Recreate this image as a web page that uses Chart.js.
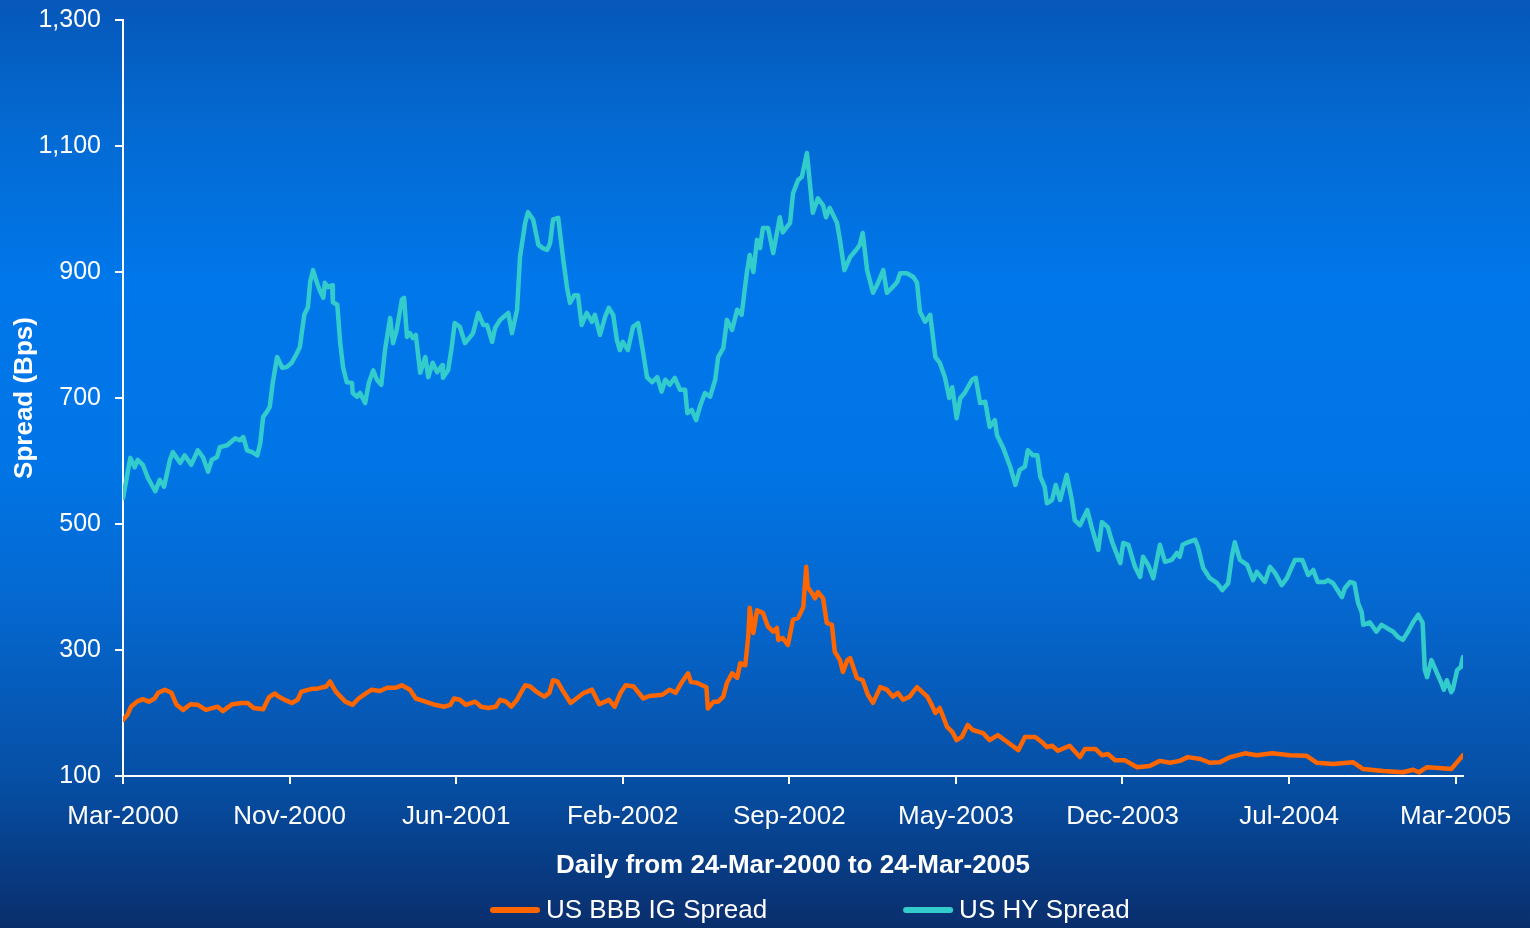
<!DOCTYPE html>
<html>
<head>
<meta charset="utf-8">
<title>US Credit Spreads</title>
<script src="https://cdn.jsdelivr.net/npm/chart.js@4.4.1/dist/chart.umd.min.js"></script>
<style>
  html, body { margin: 0; padding: 0; background: #0a2e6c; overflow: hidden; }
  canvas { display: block; }
</style>
</head>
<body>
<canvas id="spreads" width="1530" height="928"></canvas>
<script>
// Day numbers are counted from 24-Mar-2000.
const hyDays = [0,10,16,20,27,34,44,50,56,64,68,78,84,93,102,109,116,121,128,132,142,153,159,164,169,176,183,187,191,196,200,204,210,217,223,230,237,241,247,252,255,259,264,268,273,275,279,285,286,292,296,300,305,312,313,319,323,330,335,341,346,352,357,364,368,373,380,383,387,391,395,399,
  405,412,416,422,428,435,436,443,448,452,459,466,473,477,484,491,496,503,507,514,525,530,537,541,548,552,559,566,572,578,582,586,593,600,605,609,615,620,625,632,639,643,
  650,657,662,668,673,677,681,688,695,702,709,714,721,728,734,739,745,752,759,766,769,775,781,786,793,800,807,811,818,823,830,837,843,850,854,
  859,864,868,872,879,886,895,899,909,913,920,925,928,932,936,940,947,954,958,963,973,977,983,991,999,1004,1008,1014,1022,1029,1036,1041,1048,1055,1059,1068,1077,1082,1086,1093,1100,1107,1113,1120,1126,1130,1136,
  1141,1147,1157,1162,1168,1175,1181,1188,1191,1199,1209,1216,1222,1229,1233,1240,1246,1250,1256,1259,1266,1271,1277,1286,1293,1297,1304,1314,1320,1329,1334,1342,1348,1352,1359,1363,1370,1379,1386,1390,1397,1404,1413,1420,1429,1436,1440,1444,1451,1461,1465,
  1472,1481,1491,1498,1506,1511,1515,1522,1532,1540,1545,1556,1563,1570,1579,1586,1597,1607,1615,1622,1628,1638,1642,1649,1661,1665,1672,1678,1683,1688,1690,1699,1708,1715,1722,1731,1737,1744,1751,1758,1765,1771,1774,1777,1783,1790,1796,1800,1804,1810,1812,1818,1823,1826];

const hyValues = [541,605,590,602,594,573,552,570,559,602,614,597,609,594,617,606,583,602,606,622,625,636,633,638,617,614,609,628,670,678,686,724,765,748,749,756,771,781,832,844,884,903,884,871,859,883,876,879,852,848,787,748,725,724,708,702,708,692,724,744,729,721,776,827,787,808,856,859,797,803,795,800,
  740,765,733,756,741,752,732,744,781,819,813,787,797,803,835,816,816,789,811,824,835,803,840,924,978,995,983,943,938,935,946,983,986,919,876,851,863,863,816,835,821,832,
  800,829,843,832,792,776,789,776,813,819,771,733,725,733,710,729,721,732,713,713,676,681,665,686,708,702,729,765,779,824,808,840,832,898,927,
  900,951,938,970,970,930,987,963,978,1025,1046,1051,1067,1089,1041,994,1017,1006,987,1002,978,951,903,924,935,943,962,903,867,883,903,867,875,884,898,898,892,883,837,821,832,765,756,733,700,717,668,
  700,708,729,732,692,694,654,665,641,622,591,562,586,591,617,609,609,575,559,533,538,562,538,578,538,506,498,522,495,459,503,495,471,459,438,470,467,432,416,448,435,414,467,440,443,454,448,467,471,475,463,
  430,414,406,395,406,448,471,443,435,411,424,408,432,422,403,414,443,443,419,427,408,408,411,406,384,398,408,406,375,360,340,344,329,340,335,329,321,316,329,344,356,343,268,257,284,265,249,237,252,233,237,268,273,289];

const bbbDays = [0,6,11,19,27,35,43,48,57,66,73,82,92,102,113,129,136,149,162,170,178,191,199,207,212,222,230,238,243,256,266,277,282,290,303,313,321,332,339,350,360,371,380,391,399,407,417,425,438,446,451,459,467,480,488,498,508,514,522,529,537,542,548,555,563,574,581,586,592,600,610,618,628,633,639,649,657,662,670,678,685,696,709,717,735,745,753,761,770,774,782,795,797,805,
  811,818,823,830,837,841,848,852,854,859,864,872,879,886,891,893,899,906,913,920,927,931,933,939,943,947,954,959,966,970,977,981,987,991,1000,1008,1015,1022,1032,1041,1049,1056,1063,1072,1077,1082,1096,1102,1107,1113,1123,1130,1136,1143,1151,1158,1172,1181,1192,1205,1220,1229,1243,1252,1259,1266,1274,1290,1304,1311,1325,1334,1342,1352,
  1365,1382,1399,1413,1427,1440,1451,1468,1481,1495,1509,1529,1545,1566,1590,1613,1627,1649,1668,1676,1690,1717,1744,1758,1766,1777,1788,1810,1818,1826];

const bbbValues = [189,197,210,218,222,218,223,232,237,232,213,205,214,213,205,210,203,214,216,216,208,206,225,231,226,220,216,221,234,238,239,242,250,234,218,213,223,232,237,235,240,240,244,237,223,220,216,213,210,213,223,221,213,218,210,208,210,221,218,210,221,232,244,242,234,226,232,252,250,234,216,223,232,234,237,214,218,221,210,232,244,242,223,227,229,237,232,248,263,249,248,241,207,218,
  218,226,248,263,256,279,276,321,367,327,363,359,337,329,335,316,319,308,348,351,368,432,400,390,382,392,382,343,340,297,284,265,284,287,256,252,229,216,241,237,226,232,221,226,234,241,226,213,200,208,178,170,157,162,181,173,168,157,165,154,141,162,162,154,146,148,140,148,130,143,143,133,135,125,
  125,114,116,124,121,124,130,127,121,122,130,136,133,136,133,132,121,119,121,122,111,108,106,110,106,114,113,111,122,133];

const xTickDates = ['2000-03-24','2000-11-06','2001-06-21','2002-02-03','2002-09-18','2003-05-03','2003-12-16','2004-07-30','2005-03-14'];
const xTickLabels = ['Mar-2000','Nov-2000','Jun-2001','Feb-2002','Sep-2002','May-2003','Dec-2003','Jul-2004','Mar-2005'];
const seriesNames = ['US BBB IG Spread', 'US HY Spread'];
const yMin = 100, yMax = 1300, yStep = 200;
const endDay = 1826; // 24-Mar-2005

const DAY_MS = 86400000;
const startMs = Date.UTC(2000, 2, 24);
const toDay = s => { const [y, m, d] = s.split('-').map(Number); return Math.round((Date.UTC(y, m - 1, d) - startMs) / DAY_MS); };
const xTickDays = xTickDates.map(toDay);
const pairUp = (days, vals) => days.map((d, i) => ({ x: d, y: vals[i] }));

const FONT = "'Liberation Sans', Arial, Helvetica, sans-serif";
Chart.defaults.font.family = FONT;
Chart.defaults.color = '#ffffff';

const backdrop = {
  id: 'backdrop',
  beforeDraw(chart) {
    const { ctx, width, height } = chart;
    const g = ctx.createLinearGradient(0, 0, 0, height);
    g.addColorStop(0.00, '#0657b9');
    g.addColorStop(0.12, '#0468cf');
    g.addColorStop(0.30, '#0077ea');
    g.addColorStop(0.50, '#0075e6');
    g.addColorStop(0.65, '#0568d0');
    g.addColorStop(0.84, '#064fa5');
    g.addColorStop(1.00, '#0a2e6c');
    ctx.save();
    ctx.fillStyle = g;
    ctx.fillRect(0, 0, width, height);
    ctx.restore();
  }
};

const lineLegend = {
  id: 'lineLegend',
  afterDraw(chart) {
    const { ctx } = chart;
    ctx.save();
    ctx.font = '26px ' + FONT;
    ctx.textBaseline = 'middle';
    ctx.textAlign = 'left';
    const y = 911;
    let x = 490;
    chart.data.datasets.forEach(ds => {
      ctx.strokeStyle = ds.borderColor;
      ctx.lineWidth = 6;
      ctx.lineCap = 'round';
      ctx.beginPath();
      ctx.moveTo(x + 3, y - 1);
      ctx.lineTo(x + 47, y - 1);
      ctx.stroke();
      ctx.fillStyle = '#ffffff';
      ctx.fillText(ds.label, x + 56, y);
      x += 56 + ctx.measureText(ds.label).width + 136;
    });
    ctx.restore();
  }
};

new Chart(document.getElementById('spreads'), {
  type: 'line',
  data: {
    datasets: [
      { label: seriesNames[0], data: pairUp(bbbDays, bbbValues), borderColor: '#ff6600', borderWidth: 4.5 },
      { label: seriesNames[1], data: pairUp(hyDays, hyValues), borderColor: '#33cccc', borderWidth: 4.5 }
    ]
  },
  options: {
    responsive: false,
    animation: false,
    devicePixelRatio: 1,
    events: [],
    layout: { padding: { left: 0, top: 20, right: 67, bottom: 0 } },
    elements: {
      point: { radius: 0 },
      line: { tension: 0, borderJoinStyle: 'round', borderCapStyle: 'round', fill: false }
    },
    plugins: { legend: { display: false }, tooltip: { enabled: false } },
    scales: {
      x: {
        type: 'linear',
        min: 0,
        max: endDay,
        afterBuildTicks: s => { s.ticks = xTickDays.map(v => ({ value: v })); },
        afterFit: s => { s.height = 152; },
        grid: { drawOnChartArea: false, drawTicks: true, tickLength: 8, color: '#ffffff', lineWidth: 2 },
        border: { display: true, color: '#ffffff', width: 2 },
        ticks: {
          autoSkip: false, maxRotation: 0, padding: 17, color: '#ffffff',
          font: { size: 26 },
          callback: (v, i) => xTickLabels[i]
        },
        title: {
          display: true,
          text: 'Daily from 24-Mar-2000 to 24-Mar-2005',
          color: '#ffffff',
          font: { size: 26, weight: 'bold' },
          padding: { top: 0, bottom: 47 }
        }
      },
      y: {
        min: yMin,
        max: yMax,
        afterFit: s => { s.width = 123; s.paddingTop = 0; s.paddingBottom = 0; },
        grid: { drawOnChartArea: false, drawTicks: true, tickLength: 8, color: '#ffffff', lineWidth: 2 },
        border: { display: true, color: '#ffffff', width: 2 },
        ticks: {
          stepSize: yStep, padding: 14, color: '#ffffff',
          font: { size: 25 },
          callback: v => v.toLocaleString('en-US')
        },
        title: {
          display: true,
          text: 'Spread (Bps)',
          color: '#ffffff',
          font: { size: 26, weight: 'bold' },
          padding: { top: 9, bottom: 0 }
        }
      }
    }
  },
  plugins: [backdrop, lineLegend]
});
</script>
</body>
</html>
